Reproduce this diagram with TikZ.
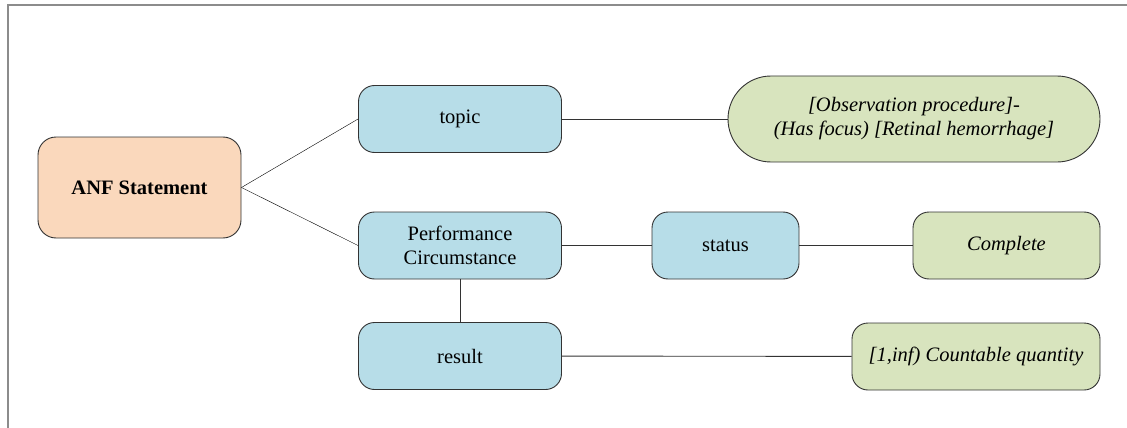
\documentclass[tikz,border=0pt]{standalone}
\usepackage{fontspec}
\setmainfont{LiberationSerif}[Extension=.ttf, UprightFont=*-Regular, BoldFont=*-Bold, ItalicFont=*-Italic, BoldItalicFont=*-BoldItalic]
\usepackage{tikz}
\definecolor{peach}{HTML}{FAD8BC}
\definecolor{lightblue}{HTML}{B7DDE8}
\definecolor{lightgreen}{HTML}{D8E4BE}
\definecolor{edge}{HTML}{333333}

\begin{document}
\begin{tikzpicture}[x=1pt, y=-1pt,
        every node/.style={draw=edge, line width=0.9pt, font=\fontsize{20.5}{24}\selectfont, align=center, inner sep=0pt},
        anf/.style={fill=peach, rounded corners=18pt, minimum width=203pt, minimum height=101pt},
        attr/.style={fill=lightblue, rounded corners=16pt, minimum width=203pt, minimum height=67pt},
        val/.style={fill=lightgreen, rounded corners=16pt, minimum height=67pt, font=\fontsize{20.5}{24}\selectfont\itshape}]
        \useasboundingbox (0, 0) rectangle (1127, 428);
        \draw[gray!90, line width=1.5pt] (8, 428) -- (8, 5) -- (1127, 5);
        \draw (139.5, 187.5) node(0)[anf]{\textbf{ANF Statement}};
        \draw (460, 119) node(1)[attr]{topic};
        \draw (460, 245.5) node(2)[attr]{Performance\\Circumstance};
        \draw (460, 356) node(3)[attr]{result};
        \draw (0.east) -- (1.west);
        \draw (0.east) -- (2.west);
        \draw (725.5, 245.5) node(4)[attr, minimum width=147pt]{status};
        \draw (914, 119) node(5)[val, minimum width=372pt, minimum height=86pt, rounded corners=43pt]{[Observation procedure]-\\(Has focus) [Retinal hemorrhage]};
        \draw (1006.5, 245.5) node(6)[val, minimum width=187pt]{Complete};
        \draw (976, 356.5) node(7)[val, minimum width=248pt]{[1,inf) Countable quantity};
        \draw[edge, line width=0.9pt] (1) -- (5);
        \draw[edge, line width=0.9pt] (2) -- (4);
        \draw[edge, line width=0.9pt] (4) -- (6);
        \draw[edge, line width=0.9pt] (2) -- (3);
        \draw[edge, line width=0.9pt] (3) -- (7);
    \end{tikzpicture}
\end{document}
